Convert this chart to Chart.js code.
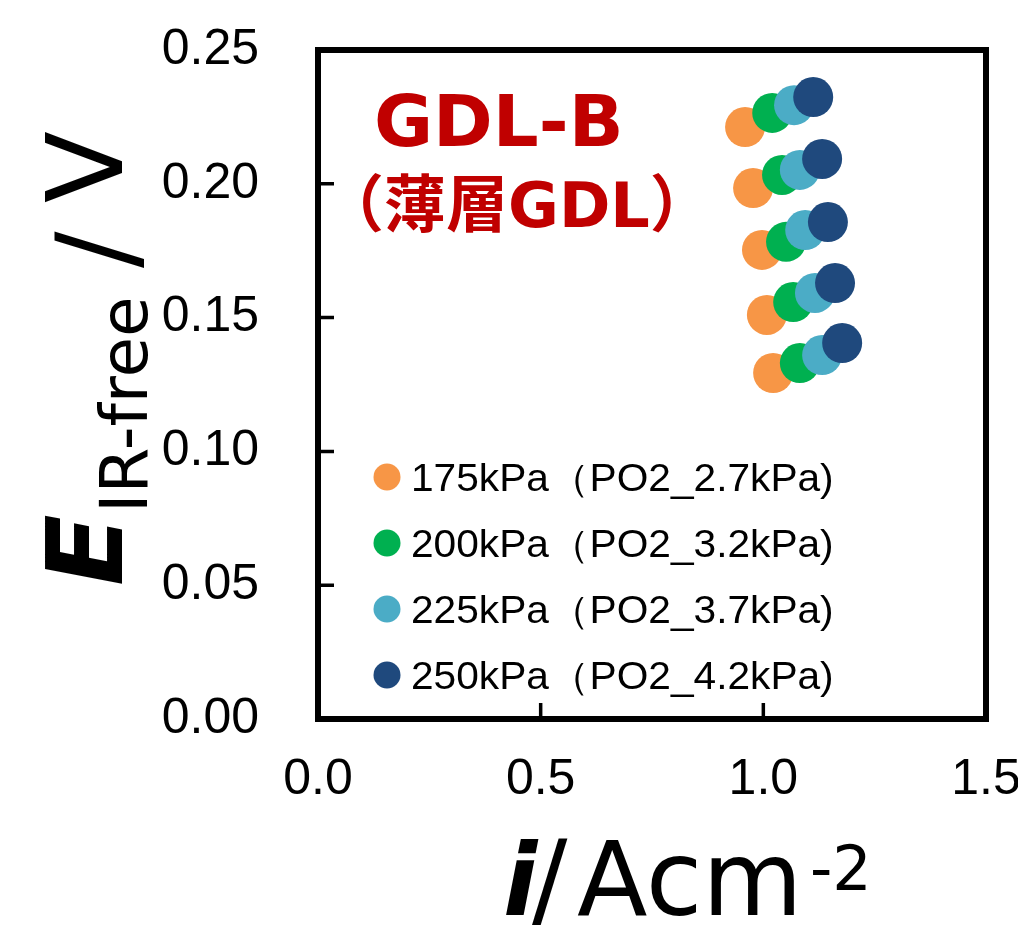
<!DOCTYPE html>
<html>
<head>
<meta charset="utf-8">
<script src="https://cdn.jsdelivr.net/npm/chart.js@4.4.1/dist/chart.umd.min.js"></script>
<style>
    html, body { margin: 0; padding: 0; background: #fff; }
    canvas { display: block; }
</style>
</head>
<body>
<canvas id="chart" width="1018" height="937"></canvas>
<script>
// Séries : i (A/cm2) et E IR-free (V)
const seriesLabels = [
    '175kPa（PO2_2.7kPa)',
    '200kPa（PO2_3.2kPa)',
    '225kPa（PO2_3.7kPa)',
    '250kPa（PO2_4.2kPa)'
];
const seriesColors = ['#F79646', '#00B050', '#4BACC6', '#1F497D'];

const i175 = [0.959, 0.977, 0.997, 1.008, 1.022];
const e175 = [0.2212, 0.1984, 0.1753, 0.1510, 0.1293];
const i200 = [1.020, 1.042, 1.051, 1.067, 1.082];
const e200 = [0.2265, 0.2033, 0.1783, 0.1558, 0.1330];
const i225 = [1.069, 1.082, 1.094, 1.116, 1.132];
const e225 = [0.2294, 0.2052, 0.1827, 0.1592, 0.1360];
const i250 = [1.112, 1.132, 1.145, 1.161, 1.177];
const e250 = [0.2324, 0.2093, 0.1857, 0.1629, 0.1405];

const xTickValues = [0, 0.5, 1.0, 1.5];
const yTickValues = [0, 0.05, 0.10, 0.15, 0.20, 0.25];

const annotationLine1 = 'GDL-B';
const annotationLine2 = '（薄層GDL）';

const seriesX = [i175, i200, i225, i250];
const seriesY = [e175, e200, e225, e250];

const datasets = seriesLabels.map((label, k) => ({
    label: label,
    data: seriesX[k].map((v, j) => ({ x: v, y: seriesY[k][j] })),
    backgroundColor: seriesColors[k],
    borderWidth: 0,
    pointRadius: 20,
    pointHoverRadius: 20,
    order: seriesLabels.length - k   // la dernière série dessinée au-dessus
}));

const tickFont = { family: "'Liberation Sans', Arial, sans-serif", size: 50 };

// Texte tourné pour le titre de l'axe Y
function drawRot(ctx, text, font, x, y) {
    ctx.save();
    ctx.translate(x, y);
    ctx.rotate(-Math.PI / 2);
    ctx.font = font;
    ctx.textAlign = 'left';
    ctx.textBaseline = 'alphabetic';
    ctx.fillText(text, 0, 0);
    ctx.restore();
}

const decorPlugin = {
    id: 'decor',
    afterDraw(chart) {
        const { ctx, chartArea: a, scales: { x, y } } = chart;
        ctx.save();

        // Cadre
        ctx.strokeStyle = '#000';
        ctx.lineWidth = 6;
        ctx.strokeRect(a.left, a.top, a.right - a.left, a.bottom - a.top);

        // Graduations intérieures
        ctx.lineWidth = 3.5;
        ctx.beginPath();
        xTickValues.slice(1, -1).forEach(v => {
            const px = x.getPixelForValue(v);
            ctx.moveTo(px, a.bottom);
            ctx.lineTo(px, a.bottom - 16);
        });
        yTickValues.slice(1, -1).forEach(v => {
            const py = y.getPixelForValue(v);
            ctx.moveTo(a.left, py);
            ctx.lineTo(a.left + 16, py);
        });
        ctx.stroke();

        // Légende dans la zone de tracé
        chart.data.datasets.forEach((ds, k) => {
            const cy = a.top + 427 + k * 66;
            ctx.fillStyle = ds.backgroundColor;
            ctx.beginPath();
            ctx.arc(a.left + 69, cy, 13.5, 0, Math.PI * 2);
            ctx.fill();
            ctx.fillStyle = '#000';
            ctx.font = "38px 'Liberation Sans', Arial, sans-serif";
            ctx.textAlign = 'left';
            ctx.textBaseline = 'alphabetic';
            ctx.save();
            ctx.translate(a.left + 93, cy + 14);
            ctx.scale(1.07, 1);
            ctx.fillText(ds.label, 0, 0);
            ctx.restore();
        });

        // Annotation GDL-B
        ctx.fillStyle = '#C00000';
        ctx.textAlign = 'left';
        ctx.textBaseline = 'alphabetic';
        ctx.font = "bold 72px 'DejaVu Sans', 'Noto Sans CJK JP', sans-serif";
        ctx.fillText(annotationLine1, a.left + 56, a.top + 96);
        ctx.font = "bold 62px 'DejaVu Sans', 'Noto Sans CJK JP', sans-serif";
        ctx.fillText(annotationLine2, a.left + 4, a.top + 177);

        // Titre axe Y : E_IR-free / V
        ctx.fillStyle = '#000';
        drawRot(ctx, 'E', "bold italic 105px 'DejaVu Sans', sans-serif", 122, 586);
        drawRot(ctx, 'IR-free', "66px 'DejaVu Sans', sans-serif", 147, 513);
        drawRot(ctx, '/', "108px 'DejaVu Sans', sans-serif", 134, 268);
        drawRot(ctx, 'V', "105px 'DejaVu Sans', sans-serif", 122, 203);

        // Titre axe X : i / Acm-2
        ctx.textAlign = 'left';
        ctx.textBaseline = 'alphabetic';
        ctx.font = "bold italic 100px 'DejaVu Sans', sans-serif";
        ctx.fillText('i', 503, 915);
        ctx.font = "105px 'DejaVu Sans', sans-serif";
        ctx.fillText('/', 532, 915);
        ctx.font = "103px 'DejaVu Sans', sans-serif";
        ctx.fillText('Acm', 577, 915);
        ctx.font = "62px 'DejaVu Sans', sans-serif";
        ctx.fillText('-2', 810, 890);

        ctx.restore();
    }
};

new Chart(document.getElementById('chart'), {
    type: 'scatter',
    data: { datasets: datasets },
    options: {
        responsive: false,
        animation: false,
        devicePixelRatio: 1,
        layout: {
            padding: { top: 50, right: 32, left: 0, bottom: 0 }
        },
        scales: {
            x: {
                type: 'linear',
                min: 0,
                max: 1.5,
                afterBuildTicks: scale => {
                    scale.ticks = xTickValues.map(v => ({ value: v }));
                },
                afterFit: scale => {
                    scale.height = 218;
                    scale.paddingLeft = 0;
                    scale.paddingRight = 0;
                },
                grid: { display: false, drawTicks: false },
                border: { display: false },
                ticks: {
                    color: '#000',
                    font: tickFont,
                    padding: 31,
                    maxRotation: 0,
                    autoSkip: false,
                    callback: v => Number(v).toFixed(1)
                }
            },
            y: {
                type: 'linear',
                min: 0,
                max: 0.25,
                afterBuildTicks: scale => {
                    scale.ticks = yTickValues.map(v => ({ value: v }));
                },
                afterFit: scale => {
                    scale.width = 318;
                    scale.paddingTop = 0;
                    scale.paddingBottom = 0;
                },
                grid: { display: false, drawTicks: false },
                border: { display: false },
                ticks: {
                    color: '#000',
                    font: tickFont,
                    padding: 59,
                    autoSkip: false,
                    callback: v => Number(v).toFixed(2)
                }
            }
        },
        plugins: {
            legend: { display: false },
            tooltip: { enabled: false }
        }
    },
    plugins: [decorPlugin]
});
</script>
</body>
</html>
